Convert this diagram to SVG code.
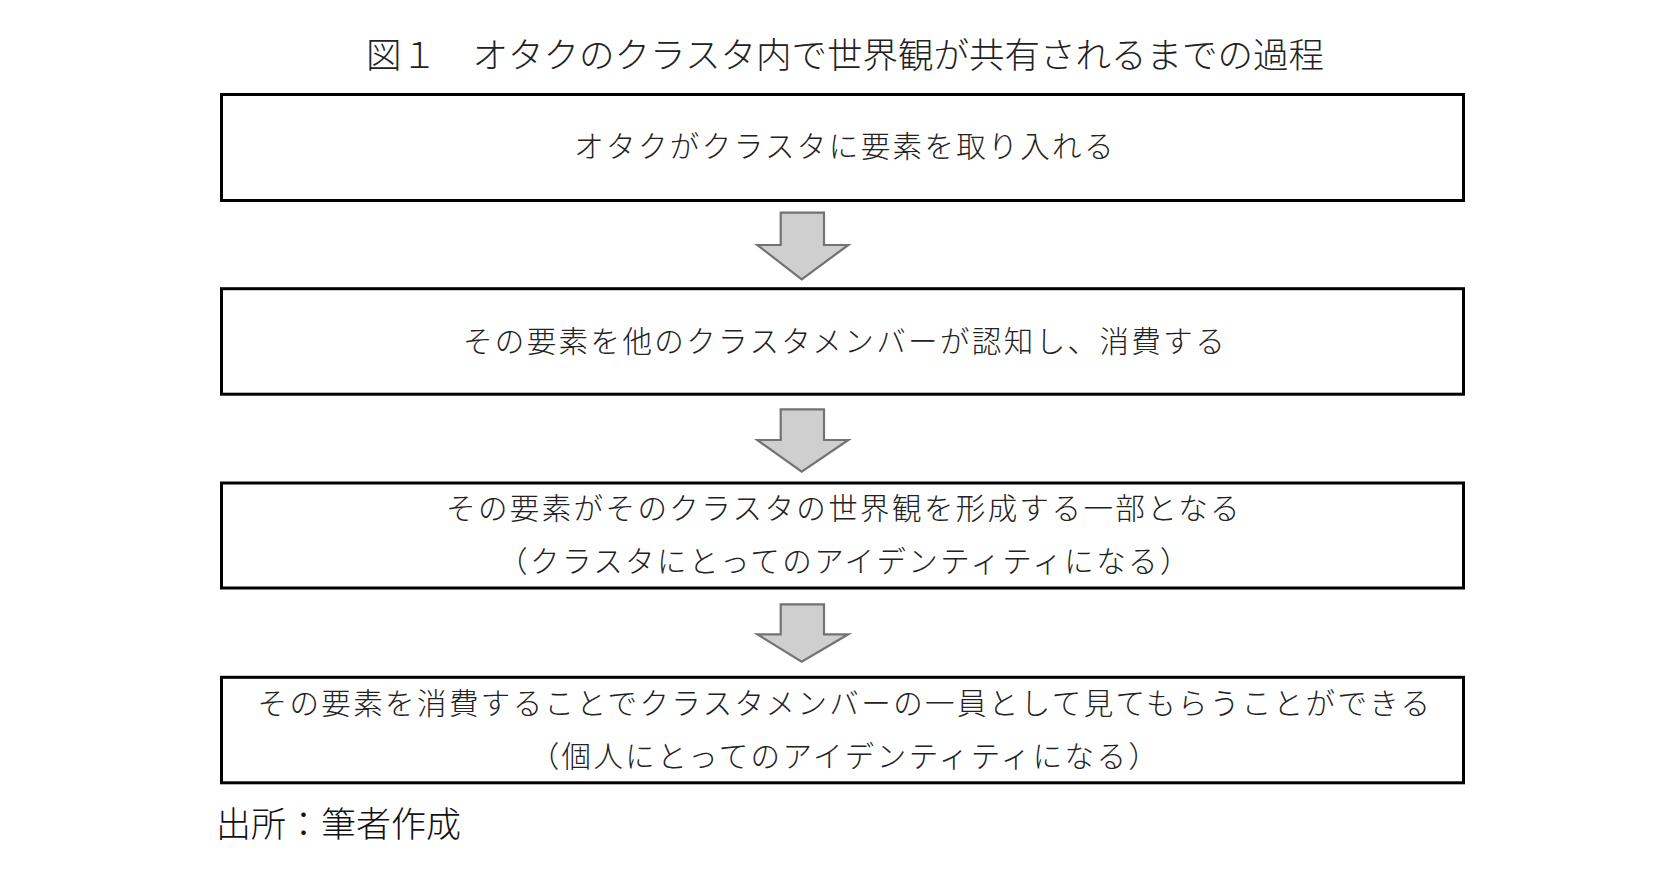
<svg xmlns="http://www.w3.org/2000/svg" width="1680" height="873" viewBox="0 0 1680 873">
<style>
.bg{fill:#ffffff}
.box{fill:#ffffff;stroke:#000000;stroke-width:3}
.arrow{fill:#d0cfcf;stroke:#737373;stroke-width:2.2;stroke-linejoin:miter}
.title{font-family:"Liberation Serif","Noto Sans CJK JP",serif;font-size:35.5px;font-weight:300;fill:#222222;text-anchor:middle;dominant-baseline:central}
.lbl{font-family:"Liberation Sans","Noto Sans CJK JP",sans-serif;font-size:29.5px;letter-spacing:2.4px;font-weight:300;fill:#222222;text-anchor:middle;dominant-baseline:central}
.foot{font-family:"Liberation Sans","Noto Sans CJK JP",sans-serif;font-size:35px;font-weight:300;fill:#111111;dominant-baseline:central}
</style>
<rect class="bg" x="0" y="0" width="1680" height="873"/>
<text class="title" x="845" y="56">図１　オタクのクラスタ内で世界観が共有されるまでの過程</text>
<g id="node1">
<rect class="box" x="221.5" y="94.5" width="1242" height="106"/>
<text class="lbl" x="845" y="146">オタクがクラスタに要素を取り入れる</text>
</g>
<g id="node2">
<rect class="box" x="221.5" y="288.7" width="1242" height="105.5"/>
<text class="lbl" x="845" y="341">その要素を他のクラスタメンバーが認知し、消費する</text>
</g>
<g id="node3">
<rect class="box" x="221.5" y="483" width="1242" height="105"/>
<text class="lbl" x="844" y="508">その要素がそのクラスタの世界観を形成する一部となる</text>
<text class="lbl" x="845" y="561.5">（クラスタにとってのアイデンティティになる）</text>
</g>
<g id="node4">
<rect class="box" x="221.5" y="677.3" width="1242" height="105.5"/>
<text class="lbl" x="845" y="703">その要素を消費することでクラスタメンバーの一員として見てもらうことができる</text>
<text class="lbl" x="845" y="756.5">（個人にとってのアイデンティティになる）</text>
</g>
<g id="connectors">
<polygon class="arrow" points="780.7,212.7 824,212.7 824,245 848.3,245 801.7,279.3 757.3,245 780.7,245"/>
<polygon class="arrow" points="780.7,409.3 824,409.3 824,440 848.3,440 801.7,471.7 757.3,440 780.7,440"/>
<polygon class="arrow" points="780.7,604.3 824,604.3 824,634.3 848.3,634.3 801.7,661.7 757.3,634.3 780.7,634.3"/>
</g>
<text class="foot" x="216" y="824">出所：筆者作成</text>
</svg>
